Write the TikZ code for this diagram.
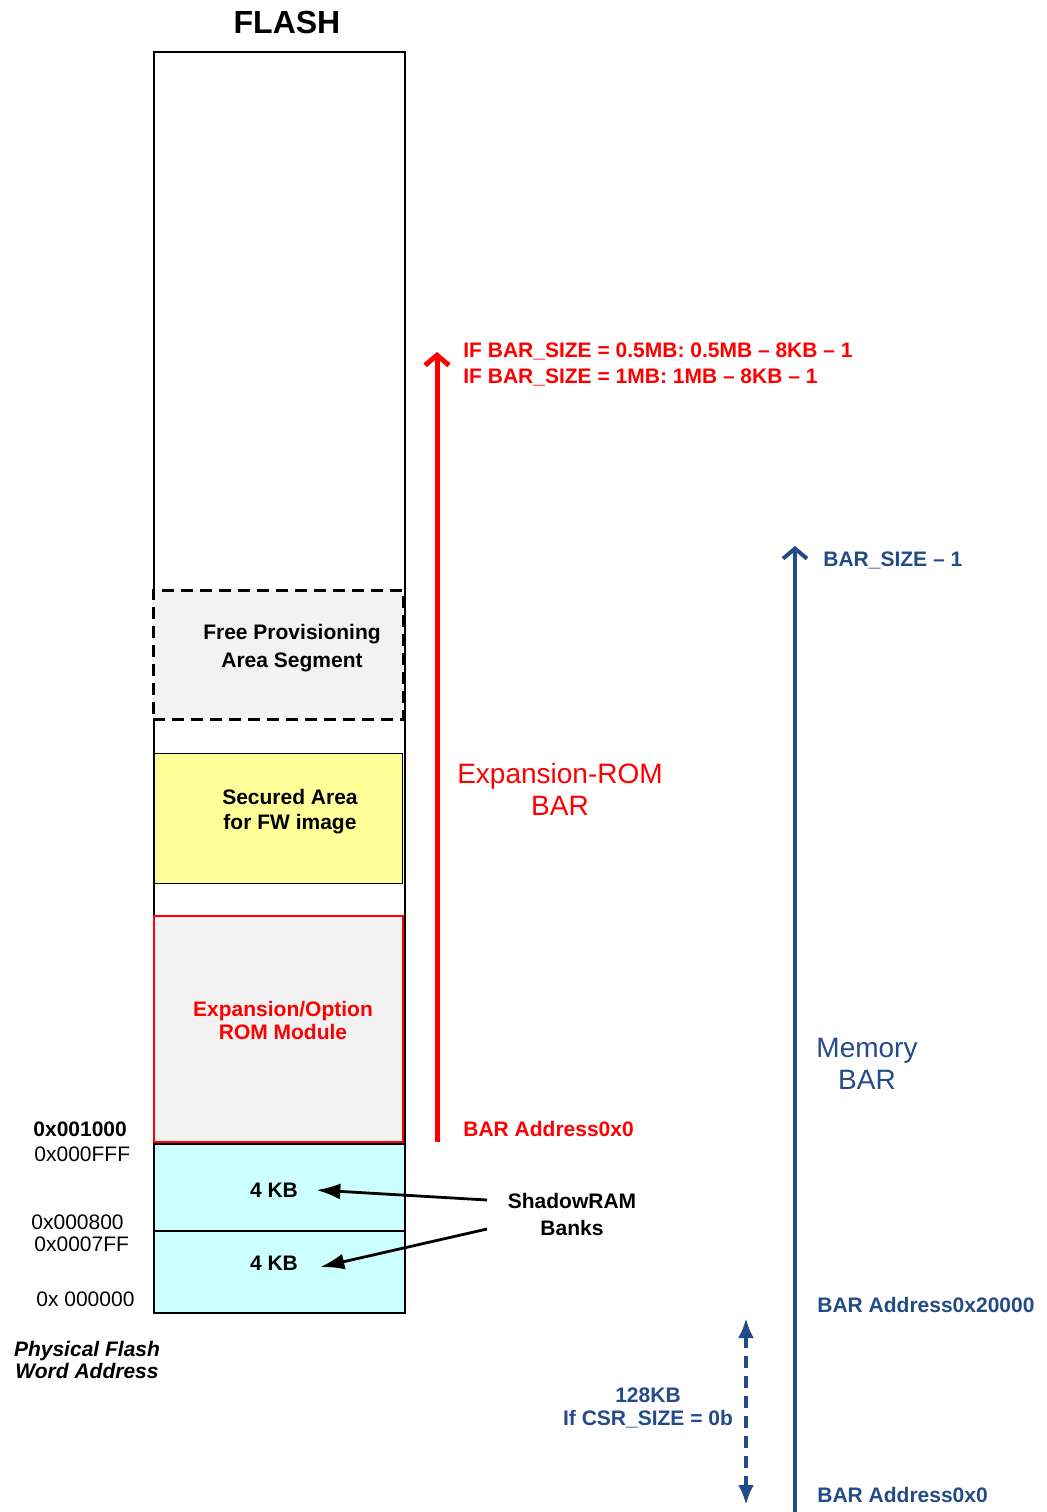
\documentclass[tikz,border=0pt]{standalone}
\usepackage{fontspec}
\setmainfont{Liberation Sans}
\usetikzlibrary{arrows.meta}
\definecolor{mblue}{RGB}{35,75,135}
\definecolor{fgray}{RGB}{242,242,242}
\definecolor{fyellow}{RGB}{255,255,153}
\definecolor{fcyan}{RGB}{204,255,255}
\begin{document}
\begin{tikzpicture}[x=0.5pt,y=-0.5pt,
  box/.style={draw, anchor=north west, inner sep=0pt, outer sep=0pt},
  bl/.style={font=\fontsize{10.5}{13}\selectfont\bfseries, align=center, inner sep=0pt},
  rg/.style={font=\fontsize{10.5}{13}\selectfont, align=center, inner sep=0pt},
  big/.style={font=\fontsize{14}{16}\selectfont, align=center, inner sep=0pt},
  barb/.style={-{Straight Barb[length=5pt,width=12pt]}},
  shad/.style={line width=1.4pt, -{Latex[length=12pt,width=8pt]}}
]
\useasboundingbox (0,0) rectangle (1047,1512);

% title
\node[font=\fontsize{16}{18}\selectfont\bfseries, inner sep=0pt] (title) at (287,22) {FLASH};

% main flash column
\node[box, fill=white, line width=0.75pt, minimum width=125.5pt, minimum height=630.5pt] (flash) at (154,52) {};

% free provisioning
\node[box, fill=fgray, line width=1.5pt, dash pattern=on 6pt off 3.5pt, minimum width=125pt, minimum height=64.5pt] (free) at (153,590) {};
\node[bl, font=\fontsize{10.5}{14}\selectfont\bfseries] (freet) at (292,648) {Free Provisioning\\Area Segment};

% secured area
\node[box, fill=fyellow, line width=0.5pt, minimum width=124pt, minimum height=65pt] (sec) at (154,753) {};
\node[bl, font=\fontsize{10.5}{12.5}\selectfont\bfseries] (sect) at (290,812) {Secured Area\\for FW image};

% expansion option ROM
\node[box, fill=fgray, draw=red, line width=0.6pt, minimum width=124.5pt, minimum height=113pt] (rom) at (154,916) {};
\node[bl, text=red, font=\fontsize{10.5}{11.5}\selectfont\bfseries] (romt) at (283,1020) {Expansion/Option\\ROM Module};

% shadow RAM banks
\node[box, fill=fcyan, line width=0.75pt, minimum width=125.5pt, minimum height=43.5pt] (bank1) at (154,1144) {};
\node[box, fill=fcyan, line width=0.75pt, minimum width=125.5pt, minimum height=41pt] (bank0) at (154,1231) {};
\node[bl] (kb1) at (274,1190) {4 KB};
\node[bl] (kb0) at (274,1263) {4 KB};

% address labels
\node[bl, anchor=west] (a1000) at (33,1129) {0x001000};
\node[rg, anchor=west] (a0fff) at (34,1154) {0x000FFF};
\node[rg, anchor=west] (a0800) at (31,1222) {0x000800};
\node[rg, anchor=west] (a07ff) at (34,1244) {0x0007FF};
\node[rg, anchor=west] (a0000) at (36,1299) {0x 000000};
\node[font=\fontsize{10.5}{11}\selectfont\bfseries\itshape, align=center, inner sep=0pt] (phys) at (87,1360) {Physical Flash\\ Word Address};

% shadow RAM label and arrows
\node[bl, font=\fontsize{10.5}{13.5}\selectfont\bfseries] (shadow) at (572,1214) {ShadowRAM\\Banks};
\coordinate (s1) at (487,1200);
\coordinate (s0) at (487,1229);
\draw[shad] (s1) -- ([xshift=9pt]kb1.east);
\draw[shad] (s0) -- ([xshift=11pt,yshift=-2pt]kb0.east);

% expansion ROM BAR arrow
\coordinate (rb) at (437,1142);
\coordinate (rt) at (437,352);
\draw[red, line width=2.5pt, barb] (rb) -- (rt);
\node[bl, text=red, anchor=west, align=left] (rtop) at (463,364) {IF BAR\_SIZE = 0.5MB: 0.5MB – 8KB – 1\\IF BAR\_SIZE = 1MB: 1MB – 8KB – 1};
\node[big, text=red] (erom) at (560,789) {Expansion-ROM\\BAR};
\node[bl, text=red, anchor=west] (rbase) at (463,1129) {BAR Address0x0};

% memory BAR arrow
\coordinate (mb) at (795,1512);
\coordinate (mt) at (795,546);
\draw[mblue, line width=2pt, barb] (mb) -- (mt);
\node[bl, text=mblue, anchor=west] (mtop) at (823,560) {BAR\_SIZE – 1};
\node[big, text=mblue] (mem) at (867,1064) {Memory\\BAR};
\node[bl, text=mblue, anchor=west] (m2) at (817,1305) {BAR Address0x20000};
\node[bl, text=mblue, anchor=west] (m0) at (817,1495) {BAR Address0x0};

% 128KB dashed double arrow
\coordinate (dt) at (746,1318);
\coordinate (db) at (746,1505);
\draw[mblue, line width=2pt, dash pattern=on 6pt off 4pt, {Latex[length=10pt,width=8pt]}-{Latex[length=10pt,width=8pt]}] (dt) -- (db);
\node[bl, text=mblue, font=\fontsize{10.5}{11.5}\selectfont\bfseries] (csr) at (648,1408) {128KB\\If CSR\_SIZE = 0b};
\end{tikzpicture}
\end{document}
